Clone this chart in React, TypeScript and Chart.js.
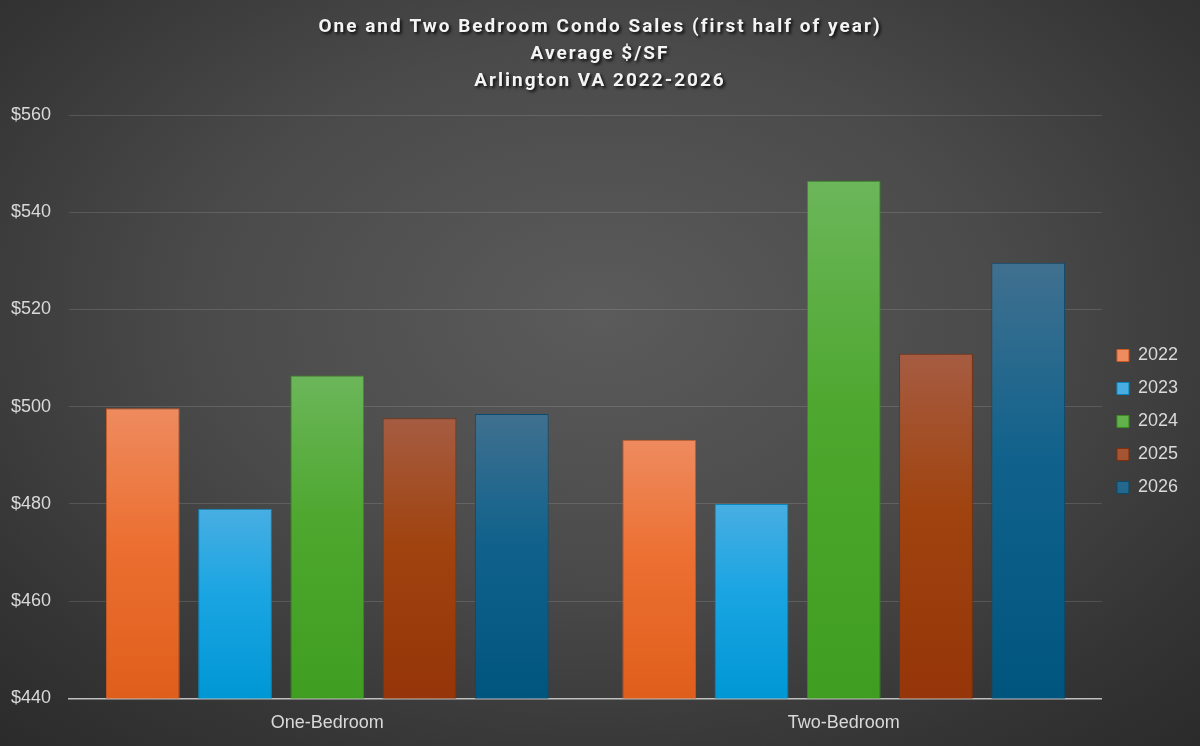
import React, { useEffect, useRef } from 'react'
import { Chart, registerables } from 'chart.js'

Chart.register(...registerables)

// ---- data ----
const categories = ['One-Bedroom', 'Two-Bedroom']
const years = ['2022', '2023', '2024', '2025', '2026']
const sales2022 = [499.7, 493.2]
const sales2023 = [479.0, 480.0]
const sales2024 = [506.4, 546.5]
const sales2025 = [497.6, 510.9]
const sales2026 = [498.5, 529.6]
const yMin = 440
const yMax = 560
const yStep = 20
const titleLines = [
	'One and Two Bedroom Condo Sales (first half of year)',
	'Average $/SF',
	'Arlington VA 2022-2026',
]

// ---- styles ----
const seriesValues = [sales2022, sales2023, sales2024, sales2025, sales2026]
const baseColors = ['#ec7032', '#1aa5e2', '#4ea72e', '#a0430f', '#10628c']
const topColors = ['#ee8b5f', '#48aee2', '#6bb65a', '#a65c42', '#40708f']
const bottomColors = ['#e05e1b', '#0097d5', '#3f9e22', '#953509', '#00557f']
const edgeColors = ['#c85a22', '#0a85bb', '#3a8a20', '#7e300a', '#0a4a6c']
const FONT = '"Liberation Sans", Arial, sans-serif'
const TEXT = '#d9d9d9'

const titlePlugin = {
	id: 'shadowTitle',
	afterDraw(chart: Chart) {
		const c = chart.ctx
		c.save()
		c.font = 'bold 19px Roboto'
		;(c as any).letterSpacing = '2px'
		c.fillStyle = '#f4f4f4'
		c.textAlign = 'center'
		c.textBaseline = 'middle'
		c.shadowColor = 'rgba(0,0,0,0.8)'
		c.shadowOffsetX = 2
		c.shadowOffsetY = 2
		c.shadowBlur = 3
		titleLines.forEach((t, i) => c.fillText(t, 600, 27 + i * 27))
		c.restore()
	},
}

const App: React.FC = () => {
	const chartRef = useRef<HTMLCanvasElement>(null)

	useEffect(() => {
		document.body.style.margin = '0'
		if (!chartRef.current) return
		const context = chartRef.current.getContext('2d')
		if (!context) return

		const chart = new Chart(context, {
			type: 'bar',
			data: {
				labels: categories,
				datasets: years.map((year, i) => ({
					label: year,
					data: seriesValues[i],
					backgroundColor: (ctx: any) => {
						const ch = ctx.chart
						const y = ch.scales && ch.scales.y
						if (ctx.type !== 'data' || !ch.chartArea || !y) return baseColors[i]
						const top = y.getPixelForValue(ctx.parsed.y)
						const bottom = y.getPixelForValue(yMin)
						if (!isFinite(top) || !isFinite(bottom) || bottom <= top) return baseColors[i]
						const g = ch.ctx.createLinearGradient(0, top, 0, bottom)
						g.addColorStop(0, topColors[i])
						g.addColorStop(0.45, baseColors[i])
						g.addColorStop(1, bottomColors[i])
						return g
					},
					borderColor: (ctx: any) => (ctx.type === 'data' ? edgeColors[i] : 'rgba(0,0,0,0)'),
					borderWidth: (ctx: any) => (ctx.type === 'data' ? 1 : 0),
					barPercentage: 0.8,
					categoryPercentage: 0.893,
				})),
			},
			options: {
				responsive: false,
				animation: false,
				layout: { padding: { top: 115, left: 11, right: 12, bottom: 6 } },
				scales: {
					x: {
						grid: { display: false },
						border: { display: true, color: '#bfbfbf', width: 1.5 },
						ticks: { color: TEXT, font: { size: 18, family: FONT }, padding: 6 },
					},
					y: {
						min: yMin,
						max: yMax,
						grid: { color: 'rgba(255,255,255,0.13)', drawTicks: false, lineWidth: 1 },
						border: { display: false },
						ticks: {
							stepSize: yStep,
							color: TEXT,
							padding: 9,
							crossAlign: 'far',
							font: { size: 18, family: FONT },
							callback: (v: any) => '$' + v,
						},
					},
				},
				plugins: {
					legend: {
						position: 'right',
						title: {
							display: true,
							text: '',
							font: { size: 1, lineHeight: 1 },
							padding: { top: -13, bottom: 0 },
						},
						labels: {
							boxWidth: 12,
							boxHeight: 12,
							padding: 15,
							color: TEXT,
							font: { size: 18, family: FONT },
						},
					},
					title: { display: false },
					tooltip: { enabled: false },
				},
			},
			plugins: [titlePlugin],
		})

		return () => {
			chart.destroy()
		}
	}, [])

	return (
		<div
			style={{
				width: 1200,
				height: 746,
				background:
					'radial-gradient(ellipse 75% 80% at 50% 42%, #5b5b5b 0%, #4a4a4a 45%, #343434 80%, #2a2a2a 100%)',
			}}
		>
			<canvas ref={chartRef} width={1200} height={746} style={{ display: 'block' }} />
		</div>
	)
}

export default App
